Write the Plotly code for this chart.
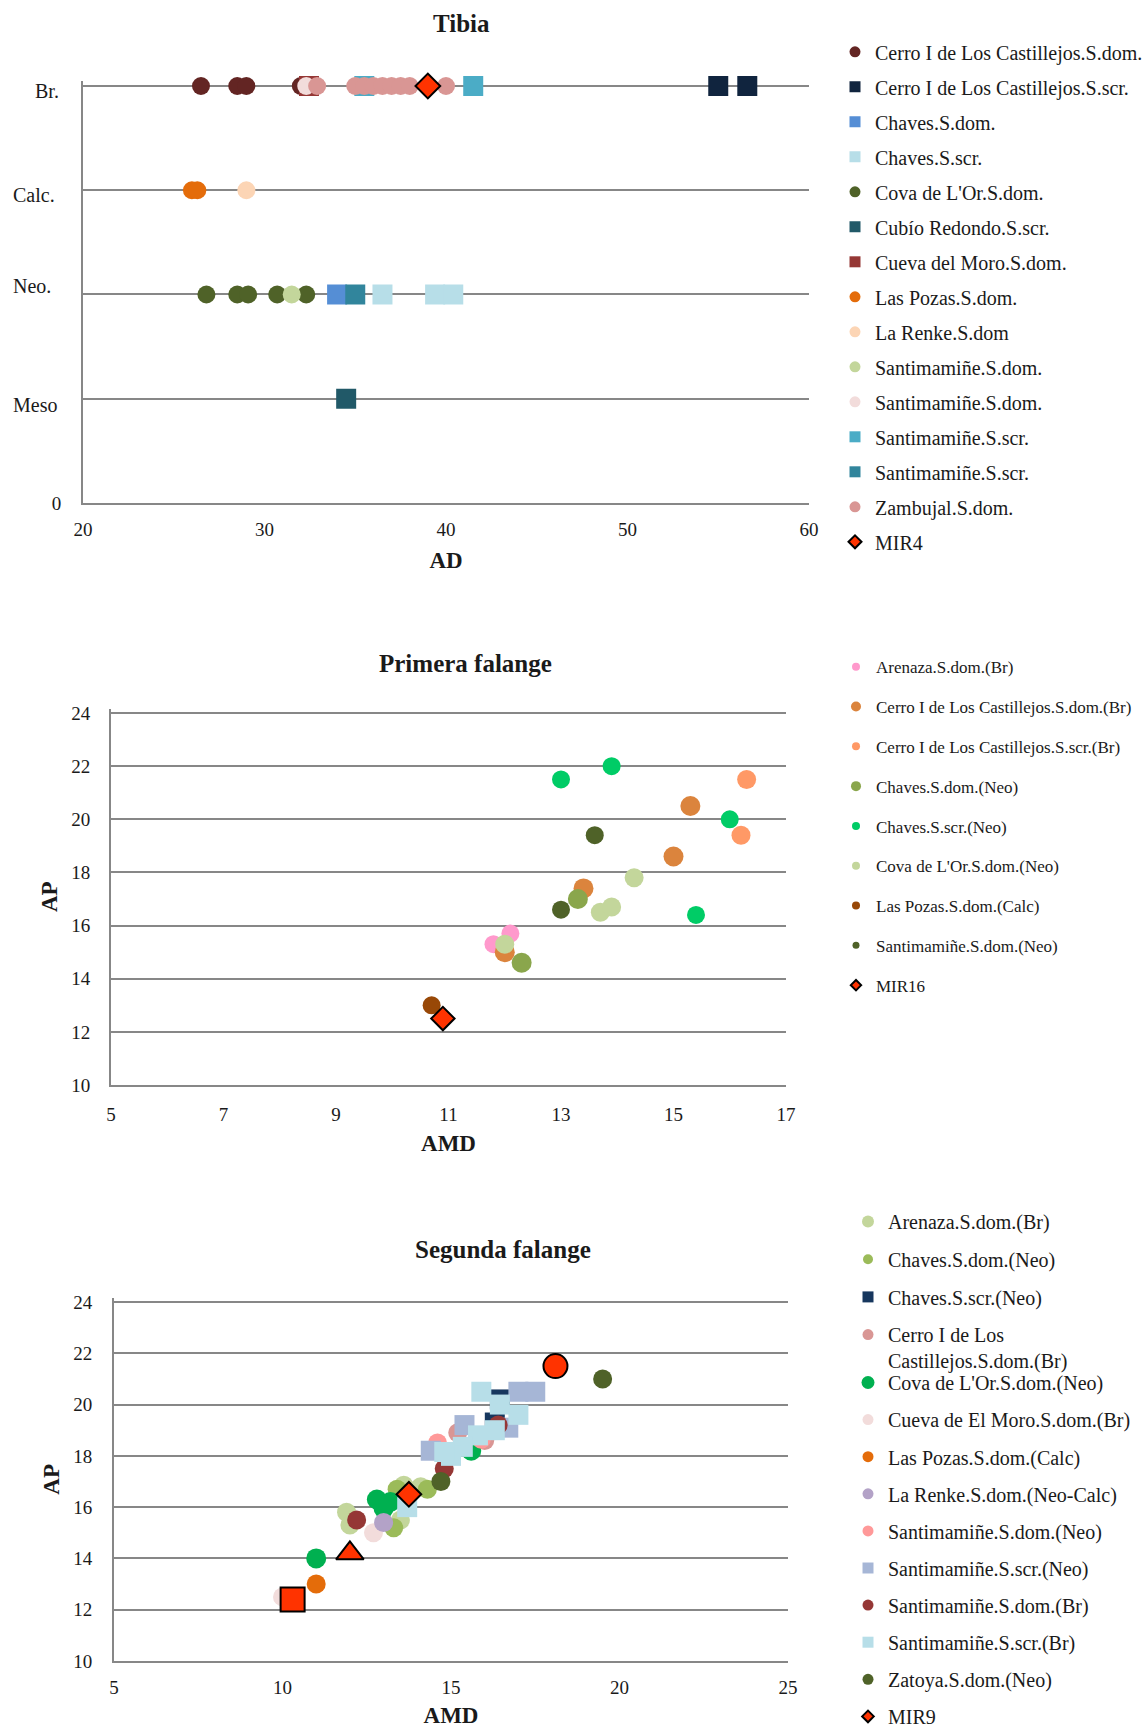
import plotly.graph_objects as go

FIG_W, FIG_H = 1144, 1728
SERIF = "Liberation Serif"
RULE = "#878787"
INK = "#1a1a1a"

# ---------------- Tibia: AD by chronological level ----------------
tibia_levels = ["Meso", "Neo.", "Calc.", "Br."]          # plotted at y = 1..4

t_cerro_dom_x = [26.5, 28.5, 29.0, 32.0]
t_cerro_dom_lvl = ["Br.", "Br.", "Br.", "Br."]
t_cerro_scr_x = [55.0, 56.6]
t_cerro_scr_lvl = ["Br.", "Br."]
t_chaves_dom_x = [34.0]
t_chaves_dom_lvl = ["Neo."]
t_chaves_scr_x = [36.5, 39.4, 40.4]
t_chaves_scr_lvl = ["Neo.", "Neo.", "Neo."]
t_cova_dom_x = [26.8, 28.5, 29.1, 30.7, 32.3]
t_cova_dom_lvl = ["Neo.", "Neo.", "Neo.", "Neo.", "Neo."]
t_cubio_scr_x = [34.5]
t_cubio_scr_lvl = ["Meso"]
t_moro_dom_x = [32.45]
t_moro_dom_lvl = ["Br."]
t_pozas_dom_x = [26.0, 26.3]
t_pozas_dom_lvl = ["Calc.", "Calc."]
t_renke_dom_x = [29.0]
t_renke_dom_lvl = ["Calc."]
t_santi_dom_neo_x = [31.5]
t_santi_dom_neo_lvl = ["Neo."]
t_santi_dom_br_x = [32.3]
t_santi_dom_br_lvl = ["Br."]
t_santi_scr_br_x = [35.5, 41.5]
t_santi_scr_br_lvl = ["Br.", "Br."]
t_santi_scr_neo_x = [35.0]
t_santi_scr_neo_lvl = ["Neo."]
t_zambujal_x = [32.9, 35.0, 35.5, 36.0, 36.5, 37.0, 37.5, 38.0, 40.0]
t_zambujal_lvl = ["Br.", "Br.", "Br.", "Br.", "Br.", "Br.", "Br.", "Br.", "Br."]
t_mir4_x = [39.0]
t_mir4_lvl = ["Br."]

# ---------------- Primera falange: AMD vs AP ----------------
p_arenaza_x = [11.8, 12.1]
p_arenaza_y = [15.3, 15.7]
p_cerro_dom_x = [15.3, 15.0, 13.4, 12.0]
p_cerro_dom_y = [20.5, 18.6, 17.4, 15.0]
p_cerro_scr_x = [16.3, 16.2]
p_cerro_scr_y = [21.5, 19.4]
p_chaves_dom_x = [13.3, 12.3]
p_chaves_dom_y = [17.0, 14.6]
p_chaves_scr_x = [13.0, 13.9, 16.0, 15.4]
p_chaves_scr_y = [21.5, 22.0, 20.0, 16.4]
p_cova_x = [14.3, 13.7, 13.9, 12.0]
p_cova_y = [17.8, 16.5, 16.7, 15.3]
p_pozas_x = [10.7]
p_pozas_y = [13.0]
p_santi_x = [13.6, 13.0]
p_santi_y = [19.4, 16.6]
p_mir16_x = [10.9]
p_mir16_y = [12.5]

# ---------------- Segunda falange: AMD vs AP ----------------
s_arenaza_x = [11.9, 12.0, 13.5, 13.6, 14.1]
s_arenaza_y = [15.8, 15.3, 15.5, 16.85, 16.8]
s_chaves_dom_x = [13.3, 13.4, 14.3]
s_chaves_dom_y = [15.2, 16.7, 16.7]
s_chaves_scr_x = [16.45, 16.3]
s_chaves_scr_y = [20.2, 19.3]
s_cerro_dom_x = [15.2, 16.0]
s_cerro_dom_y = [18.9, 18.6]
s_cova_x = [11.0, 12.8, 13.2, 13.0, 15.6]
s_cova_y = [14.0, 16.3, 16.2, 15.95, 18.2]
s_moro_x = [10.0, 12.7]
s_moro_y = [12.5, 15.0]
s_pozas_x = [11.0]
s_pozas_y = [13.0]
s_renke_x = [13.0]
s_renke_y = [15.4]
s_santi_dom_neo_x = [14.6, 15.9]
s_santi_dom_neo_y = [18.5, 18.65]
s_santi_scr_neo_x = [14.4, 15.4, 16.7, 17.0, 17.5]
s_santi_scr_neo_y = [18.2, 19.2, 19.1, 20.5, 20.5]
s_santi_dom_br_x = [12.2, 14.8, 16.4]
s_santi_dom_br_y = [15.5, 17.5, 19.2]
s_santi_scr_br_x = [15.9, 16.45, 17.0, 16.3, 15.8, 15.35, 15.0, 14.8, 13.7]
s_santi_scr_br_y = [20.5, 20.0, 19.6, 19.0, 18.8, 18.35, 18.0, 18.15, 16.0]
s_zatoya_x = [19.5, 14.7]
s_zatoya_y = [21.0, 17.0]
s_mir9_x = [10.3, 12.0, 13.75, 18.1]
s_mir9_y = [12.4, 14.2, 16.5, 21.5]
s_mir9_symbols = ["square", "triangle-up", "diamond", "circle"]
s_mir9_sizes = [24, 24, 19, 24]


def fx(px):
    return px / FIG_W


def fy(py):
    return 1 - py / FIG_H


fig = go.Figure()


def add_series(key, name, x, y, color, symbol, size, axes, legend, leg_size,
               outline=False, leg_symbol=None):
    xa, ya = axes
    line = dict(color="black", width=2) if outline else dict(width=0)
    fig.add_trace(go.Scatter(
        x=x, y=y, mode="markers", name=name, legendgroup=key, showlegend=False,
        marker=dict(color=color, symbol=symbol, size=size, line=line, opacity=1),
        cliponaxis=False, xaxis=xa, yaxis=ya, hoverinfo="x+y+name"))
    fig.add_trace(go.Scatter(
        x=[None], y=[None], mode="markers", name=name, legendgroup=key,
        showlegend=True, legend=legend,
        marker=dict(color=color, symbol=leg_symbol or symbol, size=leg_size,
                    line=line, opacity=1),
        xaxis=xa, yaxis=ya))


level_value = {name: i + 1 for i, name in enumerate(tibia_levels)}


def lv(levels):
    return [level_value[v] for v in levels]


T = ("x", "y")
tibia_series = [
    ("t1", "Cerro I de Los Castillejos.S.dom.", t_cerro_dom_x, t_cerro_dom_lvl, "#632523", "circle", 18),
    ("t2", "Cerro I de Los Castillejos.S.scr.", t_cerro_scr_x, t_cerro_scr_lvl, "#10243E", "square", 20),
    ("t3", "Chaves.S.dom.", t_chaves_dom_x, t_chaves_dom_lvl, "#558ED5", "square", 20),
    ("t4", "Chaves.S.scr.", t_chaves_scr_x, t_chaves_scr_lvl, "#B7DEE8", "square", 20),
    ("t5", "Cova de L'Or.S.dom.", t_cova_dom_x, t_cova_dom_lvl, "#4F6228", "circle", 18),
    ("t6", "Cubío Redondo.S.scr.", t_cubio_scr_x, t_cubio_scr_lvl, "#215968", "square", 20),
    ("t7", "Cueva del Moro.S.dom.", t_moro_dom_x, t_moro_dom_lvl, "#953735", "square", 20),
    ("t8", "Las Pozas.S.dom.", t_pozas_dom_x, t_pozas_dom_lvl, "#E46C0A", "circle", 18),
    ("t9", "La Renke.S.dom", t_renke_dom_x, t_renke_dom_lvl, "#FCD5B5", "circle", 18),
    ("t10", "Santimamiñe.S.dom.", t_santi_dom_neo_x, t_santi_dom_neo_lvl, "#C3D69B", "circle", 18),
    ("t11", "Santimamiñe.S.dom.", t_santi_dom_br_x, t_santi_dom_br_lvl, "#F2DCDB", "circle", 18),
    ("t12", "Santimamiñe.S.scr.", t_santi_scr_br_x, t_santi_scr_br_lvl, "#4BACC6", "square", 20),
    ("t13", "Santimamiñe.S.scr.", t_santi_scr_neo_x, t_santi_scr_neo_lvl, "#31859C", "square", 20),
    ("t14", "Zambujal.S.dom.", t_zambujal_x, t_zambujal_lvl, "#D99694", "circle", 18),
]
for key, name, x, lvls, color, sym, size in tibia_series:
    add_series(key, name, x, lv(lvls), color, sym, size, T, "legend", 11)
add_series("t15", "MIR4", t_mir4_x, lv(t_mir4_lvl), "#FF3300", "diamond", 19, T,
           "legend", 10, outline=True)

P = ("x2", "y2")
primera_series = [
    ("p1", "Arenaza.S.dom.(Br)", p_arenaza_x, p_arenaza_y, "#FF99CC", 18, 8),
    ("p2", "Cerro I de Los Castillejos.S.dom.(Br)", p_cerro_dom_x, p_cerro_dom_y, "#DB843D", 20, 10),
    ("p3", "Cerro I de Los Castillejos.S.scr.(Br)", p_cerro_scr_x, p_cerro_scr_y, "#FF9966", 19, 8),
    ("p4", "Chaves.S.dom.(Neo)", p_chaves_dom_x, p_chaves_dom_y, "#8AA64C", 20, 10),
    ("p5", "Chaves.S.scr.(Neo)", p_chaves_scr_x, p_chaves_scr_y, "#00CC66", 18, 8),
    ("p6", "Cova de L'Or.S.dom.(Neo)", p_cova_x, p_cova_y, "#C3D69B", 19, 8),
    ("p7", "Las Pozas.S.dom.(Calc)", p_pozas_x, p_pozas_y, "#984807", 18, 8),
    ("p8", "Santimamiñe.S.dom.(Neo)", p_santi_x, p_santi_y, "#4F6228", 18, 7),
]
for key, name, x, y, color, size, lsize in primera_series:
    add_series(key, name, x, y, color, "circle", size, P, "legend2", lsize)
add_series("p9", "MIR16", p_mir16_x, p_mir16_y, "#FF3300", "diamond", 18, P,
           "legend2", 8, outline=True)

S = ("x3", "y3")
segunda_series = [
    ("s1", "Arenaza.S.dom.(Br)", s_arenaza_x, s_arenaza_y, "#C3D69B", "circle", 19, "legend3", 12),
    ("s2", "Chaves.S.dom.(Neo)", s_chaves_dom_x, s_chaves_dom_y, "#9BBB59", "circle", 19, "legend3", 10),
    ("s3", "Chaves.S.scr.(Neo)", s_chaves_scr_x, s_chaves_scr_y, "#17375E", "square", 20, "legend3", 11),
    ("s4", "Cerro I de Los<br>Castillejos.S.dom.(Br)", s_cerro_dom_x, s_cerro_dom_y, "#D99694", "circle", 19, "legend3", 11),
    ("s5", "Cova de L'Or.S.dom.(Neo)", s_cova_x, s_cova_y, "#00B050", "circle", 20, "legend4", 13),
    ("s6", "Cueva de El Moro.S.dom.(Br)", s_moro_x, s_moro_y, "#F2DCDB", "circle", 19, "legend4", 11),
    ("s7", "Las Pozas.S.dom.(Calc)", s_pozas_x, s_pozas_y, "#E46C0A", "circle", 19, "legend4", 11),
    ("s8", "La Renke.S.dom.(Neo-Calc)", s_renke_x, s_renke_y, "#B3A2C7", "circle", 19, "legend4", 11),
    ("s9", "Santimamiñe.S.dom.(Neo)", s_santi_dom_neo_x, s_santi_dom_neo_y, "#FF9999", "circle", 19, "legend4", 11),
    ("s10", "Santimamiñe.S.scr.(Neo)", s_santi_scr_neo_x, s_santi_scr_neo_y, "#A6B6D6", "square", 20, "legend4", 11),
    ("s11", "Santimamiñe.S.dom.(Br)", s_santi_dom_br_x, s_santi_dom_br_y, "#953735", "circle", 19, "legend4", 11),
    ("s12", "Santimamiñe.S.scr.(Br)", s_santi_scr_br_x, s_santi_scr_br_y, "#B7DEE8", "square", 20, "legend4", 11),
    ("s13", "Zatoya.S.dom.(Neo)", s_zatoya_x, s_zatoya_y, "#4F6228", "circle", 19, "legend4", 11),
]
for key, name, x, y, color, sym, size, leg, lsize in segunda_series:
    add_series(key, name, x, y, color, sym, size, S, leg, lsize)
add_series("s14", "MIR9", s_mir9_x, s_mir9_y, "#FF3300", s_mir9_symbols, s_mir9_sizes, S,
           "legend4", 9, outline=True, leg_symbol="diamond")


def x_axis(px0, px1, rng, dtick, title, standoff, label_gap):
    return dict(
        domain=[fx(px0), fx(px1)], range=rng, dtick=dtick, tick0=rng[0],
        showgrid=False, zeroline=False, showline=True, linecolor=RULE, linewidth=2,
        ticks="", ticklabelstandoff=label_gap, automargin=False,
        tickfont=dict(family=SERIF, size=19, color=INK),
        title=dict(text=title, standoff=standoff,
                   font=dict(family=SERIF, size=23, color=INK, weight="bold")),
        fixedrange=True)


def y_axis(py_bottom, py_top, lo, hi, tickvals, ticktext, title, standoff, label_gap):
    # the range runs a little past the top tick so its grid line is kept
    extra = 0.012 * (hi - lo)
    top_px = py_top - (py_bottom - py_top) * extra / (hi - lo)
    return dict(
        domain=[fy(py_bottom), fy(top_px)], range=[lo, hi + extra],
        tickvals=tickvals, ticktext=ticktext,
        showgrid=True, gridcolor=RULE, gridwidth=2, zeroline=False,
        showline=True, linecolor=RULE, linewidth=2, ticks="", ticklabelstandoff=label_gap,
        automargin=False,
        tickfont=dict(family=SERIF, size=19, color=INK),
        title=dict(text=title, standoff=standoff,
                   font=dict(family=SERIF, size=23, color=INK, weight="bold")),
        fixedrange=True)


ap_ticks = [10, 12, 14, 16, 18, 20, 22, 24]

layout = dict(
    width=FIG_W, height=FIG_H, autosize=False,
    margin=dict(l=0, r=0, t=0, b=0, pad=0, autoexpand=False),
    paper_bgcolor="white", plot_bgcolor="white",
    font=dict(family=SERIF, color=INK),
    xaxis=x_axis(83, 809, [20, 60], 10, "AD", 13, 8),
    yaxis=y_axis(503, 86, 0, 4, [0, 1, 2, 3, 4], ["0", "", "", "", ""], "", 0, 16),
    xaxis2=x_axis(111, 786, [5, 17], 2, "AMD", 11, 11),
    yaxis2=y_axis(1085, 713, 10, 24, ap_ticks, [str(v) for v in ap_ticks], "AP", 7, 15),
    xaxis3=x_axis(114, 788, [5, 25], 5, "AMD", 13, 8),
    yaxis3=y_axis(1661, 1302, 10, 24, ap_ticks, [str(v) for v in ap_ticks], "AP", 7, 16),
)
layout["xaxis2"]["anchor"] = "y2"
layout["yaxis2"]["anchor"] = "x2"
layout["xaxis3"]["anchor"] = "y3"
layout["yaxis3"]["anchor"] = "x3"


def legend_box(px_left, py_top, size, gap, valign="middle"):
    return dict(x=fx(px_left), y=fy(py_top), xanchor="left", yanchor="top",
                font=dict(family=SERIF, size=size, color=INK),
                tracegroupgap=gap, traceorder="grouped", itemsizing="trace",
                valign=valign, bgcolor="rgba(0,0,0,0)", borderwidth=0)


layout["legend"] = legend_box(835, 32.3, 20, 6)
layout["legend2"] = legend_box(836, 649.2, 17, 14.7)
layout["legend3"] = legend_box(848, 1202, 20, 8.7, valign="top")
layout["legend4"] = legend_box(848, 1363, 20, 8.1)

fig.update_layout(**layout)

# chart titles
for text, cx, cy in [("Tibia", 461, 24), ("Primera falange", 465, 663), ("Segunda falange", 503, 1249)]:
    fig.add_annotation(text=text, x=fx(cx), y=fy(cy), xref="paper", yref="paper",
                       xanchor="center", yanchor="middle", showarrow=False,
                       font=dict(family=SERIF, size=25, color=INK, weight="bold"))

# chronological level labels beside the tibia rows
for text, lx, ly in [("Br.", 33, 91.5), ("Calc.", 11, 195), ("Neo.", 11, 285.5), ("Meso", 11, 404.5)]:
    fig.add_annotation(text=text, x=fx(lx), y=fy(ly), xref="paper", yref="paper",
                       xanchor="left", yanchor="middle", showarrow=False,
                       font=dict(family=SERIF, size=20, color=INK))

fig.write_html(
    "out.html",
    config={"responsive": False},
    post_script="document.body.style.margin='0px';document.body.style.padding='0px';",
)
